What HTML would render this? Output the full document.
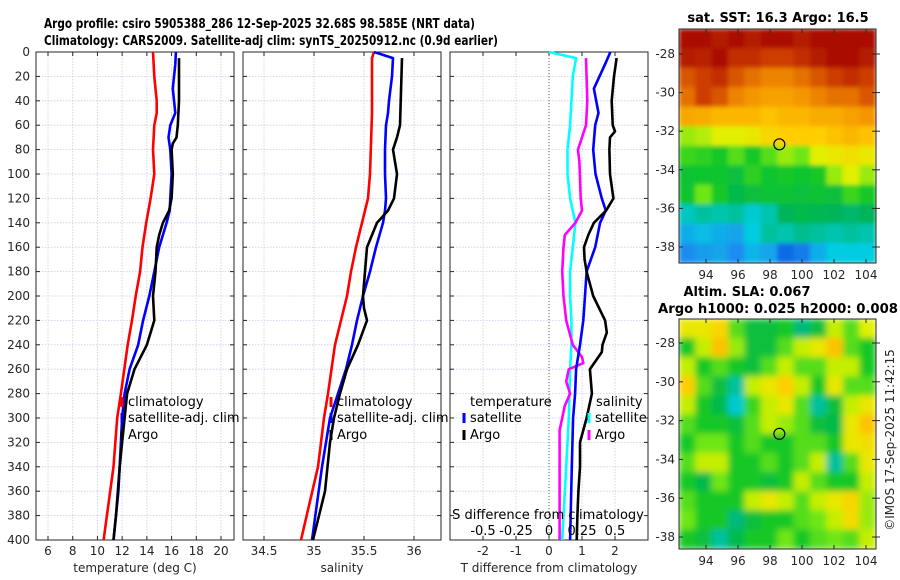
<!DOCTYPE html>
<html><head><meta charset="utf-8"><style>
html,body{margin:0;padding:0;background:#fff;}
svg{display:block;font-family:"DejaVu Sans","Liberation Sans",sans-serif;}
.tk{font-size:12px;fill:#262626;}
.ttl{font-size:13px;font-weight:bold;fill:#000;}
.lg{font-size:13px;fill:#000;}
</style></head><body>
<svg id="chart" width="900" height="580" viewBox="0 0 900 580" xmlns="http://www.w3.org/2000/svg">
<defs>
<filter id="blurA" x="0" y="0" width="1" height="1"><feGaussianBlur stdDeviation="2" edgeMode="duplicate"/></filter>
<filter id="blurB" x="0" y="0" width="1" height="1"><feGaussianBlur stdDeviation="3.2" edgeMode="duplicate"/></filter>
<clipPath id="clipA"><rect x="679" y="29" width="197" height="234"/></clipPath>
<clipPath id="clipB"><rect x="679" y="319" width="197" height="230"/></clipPath>
</defs>
<text class="ttl" x="44" y="28" textLength="431" lengthAdjust="spacingAndGlyphs">Argo profile: csiro 5905388_286 12-Sep-2025 32.68S 98.585E (NRT data)</text>
<text class="ttl" x="44" y="45" textLength="454" lengthAdjust="spacingAndGlyphs">Climatology: CARS2009. Satellite-adj clim: synTS_20250912.nc (0.9d earlier)</text>
<text class="ttl" x="778" y="22" text-anchor="middle">sat. SST: 16.3 Argo: 16.5</text>
<text class="ttl" x="747" y="296" text-anchor="middle">Altim. SLA: 0.067</text>
<text class="ttl" x="778" y="313" text-anchor="middle" textLength="240" lengthAdjust="spacingAndGlyphs">Argo h1000: 0.025 h2000: 0.008</text>
<text class="tk" transform="translate(894,440) rotate(-90)" text-anchor="middle" font-size="12">©IMOS 17-Sep-2025 11:42:15</text>
<g id="plots"></g>
</svg>
<script>
// ---------- data ----------
const depthTicks = [0,20,40,60,80,100,120,140,160,180,200,220,240,260,280,300,320,340,360,380,400];
const tTicks = [6,8,10,12,14,16,18,20];
const sTicks = [34.5,35,35.5,36];
const dTTicks = [-2,-1,0,1,2];
const dSTicks = [-0.5,-0.25,0,0.25,0.5];
const dSTickLabels = ['-0.5','-0.25','0','0.25','0.5'];

const climTDepth = [0,20,40,50,60,80,100,120,140,160,180,200,220,240,280,300,340,400];
const climT      = [14.5,14.6,14.8,14.8,14.6,14.5,14.6,14.3,13.95,13.65,13.45,13.1,12.8,12.45,11.9,11.6,11.3,10.5];
const satTDepth  = [0,10,30,50,60,70,80,100,120,130,140,160,180,200,220,240,260,280,300,320,360,400];
const satT       = [16.35,16.3,16.1,16.3,15.9,15.75,15.9,16.0,15.9,15.85,15.6,15.0,14.6,14.2,13.7,13.3,12.6,12.2,12.0,11.9,11.7,11.3];
const argoTDepth = [5,20,40,60,70,75,80,100,120,130,140,150,160,180,200,220,230,240,260,280,300,320,340,380,400];
const argoT      = [16.6,16.6,16.6,16.5,16.4,16.1,16.0,16.1,16.0,15.8,15.3,15.0,14.8,14.7,14.5,14.6,14.3,14.0,13.0,12.4,12.2,12.0,11.8,11.5,11.3];

const climSDepth = [0,5,50,100,120,140,160,180,200,220,240,280,300,340,400];
const climS      = [35.6,35.58,35.58,35.56,35.54,35.48,35.42,35.37,35.33,35.27,35.21,35.14,35.1,35.04,34.87];
const satSDepth  = [0,5,20,40,50,60,80,100,120,130,140,160,180,200,220,240,260,280,300,340,400];
const satS       = [35.6,35.79,35.78,35.75,35.74,35.72,35.71,35.71,35.72,35.71,35.69,35.62,35.56,35.49,35.43,35.38,35.32,35.24,35.16,35.08,34.98];
const argoSDepth = [5,60,70,80,85,100,120,130,140,150,160,180,200,210,220,240,260,280,300,320,360,400];
const argoS      = [35.88,35.86,35.83,35.79,35.8,35.83,35.8,35.74,35.63,35.58,35.53,35.51,35.49,35.5,35.53,35.44,35.33,35.26,35.2,35.16,35.11,34.99];

const satDTDepth = [0,10,30,50,60,80,100,120,130,140,160,180,200,220,240,260,280,300,340,400];
const satDT      = [1.86,1.7,1.36,1.5,1.4,1.34,1.41,1.6,1.72,1.55,1.4,1.14,1.09,1.04,0.94,0.82,0.79,0.73,0.69,0.64];
const argoDTDepth = [5,20,40,60,65,70,80,100,120,130,140,150,160,170,180,200,220,230,240,246,260,280,300,320,340,360,380,400];
const argoDT      = [2.05,1.97,1.9,1.93,2.0,1.85,1.83,1.85,1.95,1.73,1.36,1.19,1.06,1.08,1.14,1.34,1.7,1.75,1.62,1.6,1.24,1.3,1.14,0.94,0.94,0.89,0.86,0.84];
const satDSDepth = [0,5,20,60,80,100,120,140,160,180,200,220,240,260,300,340,400];
const satDS      = [0.0,0.205,0.18,0.16,0.14,0.14,0.16,0.2,0.18,0.16,0.16,0.17,0.17,0.16,0.15,0.13,0.1];
const argoDSDepth = [5,40,60,70,80,90,120,130,140,150,160,180,200,220,240,250,255,260,270,280,290,300,310,340,400];
const argoDS      = [0.28,0.29,0.28,0.25,0.22,0.23,0.24,0.25,0.2,0.12,0.11,0.1,0.11,0.13,0.18,0.25,0.26,0.15,0.13,0.16,0.12,0.1,0.08,0.08,0.08];

const sstLatTicks = [-28,-30,-32,-34,-36,-38];
const lonTicks = [94,96,98,100,102,104];
const argoLon = 98.585, argoLat = -32.68;
const sstGrid = [
 [.95,.95,.93,.95,.93,.95,.95,.93,.95,.95,.95,.95],
 [.93,.92,.95,.9,.9,.88,.88,.9,.93,.95,.95,.93],
 [.85,.88,.9,.85,.82,.8,.8,.82,.85,.88,.9,.88],
 [.82,.88,.85,.8,.78,.76,.76,.78,.8,.82,.82,.85],
 [.75,.74,.72,.72,.72,.7,.72,.72,.74,.74,.76,.78],
 [.55,.57,.6,.6,.62,.66,.68,.68,.68,.7,.72,.7],
 [.48,.47,.45,.5,.45,.5,.55,.52,.6,.62,.64,.62],
 [.43,.44,.44,.42,.47,.44,.45,.44,.45,.55,.6,.55],
 [.44,.52,.45,.4,.42,.43,.43,.42,.43,.42,.48,.45],
 [.32,.34,.33,.34,.31,.33,.38,.4,.39,.38,.37,.38],
 [.26,.28,.26,.25,.3,.34,.33,.35,.34,.33,.34,.33],
 [.22,.24,.25,.22,.27,.25,.18,.2,.26,.3,.3,.3]
];
const slaLatTicks = [-28,-30,-32,-34,-36,-38];
const slaGrid = [
 [.62,.62,.66,.5,.42,.42,.45,.36,.42,.58,.5,.6],
 [.45,.58,.7,.55,.42,.42,.5,.58,.62,.7,.5,.45],
 [.58,.45,.5,.45,.42,.5,.58,.5,.5,.58,.58,.45],
 [.68,.5,.42,.34,.58,.62,.68,.58,.45,.62,.5,.5],
 [.58,.45,.4,.31,.48,.58,.62,.5,.34,.42,.58,.62],
 [.5,.45,.45,.42,.5,.58,.55,.5,.42,.4,.62,.7],
 [.45,.52,.52,.45,.5,.45,.45,.5,.5,.45,.62,.64],
 [.5,.58,.58,.45,.45,.5,.45,.5,.58,.34,.5,.62],
 [.45,.4,.52,.45,.45,.42,.45,.58,.5,.45,.45,.58],
 [.5,.45,.45,.45,.58,.62,.58,.5,.58,.62,.66,.55],
 [.52,.45,.45,.36,.42,.45,.45,.5,.52,.58,.65,.55],
 [.45,.42,.34,.4,.45,.45,.52,.45,.5,.52,.5,.58]
];

// ---------- helpers ----------
const NS = 'http://www.w3.org/2000/svg';
const root = document.getElementById('plots');
function el(tag, attrs, parent){ const e=document.createElementNS(NS,tag); for(const k in attrs) e.setAttribute(k,attrs[k]); (parent||root).appendChild(e); return e; }
const Y0=52, Y1=540;
const yD = d => Y0 + d*(Y1-Y0)/400;
function linX(v0,x0,v1,x1){ return v => x0 + (v-v0)*(x1-x0)/(v1-v0); }

function panel(name, left, right, ticks, labels, xf, xlabel, showY){
  const g = el('g',{});
  
  
  depthTicks.forEach(d=>{ if(d>0&&d<400) el('line',{x1:left,x2:right,y1:yD(d),y2:yD(d),stroke:'#c8cce8','stroke-width':0.8,'stroke-dasharray':'1.5,1.5'},g); });
  ticks.forEach(t=>{ const x=xf(t); el('line',{x1:x,x2:x,y1:Y0,y2:Y1,stroke:'#c8cce8','stroke-width':0.8,'stroke-dasharray':'1.5,1.5'},g); });
  el('rect',{x:left,y:Y0,width:right-left,height:Y1-Y0,fill:'none',stroke:'#262626','stroke-width':1},g);
  depthTicks.forEach(d=>{ const y=yD(d);
    el('line',{x1:left,x2:left+4,y1:y,y2:y,stroke:'#262626'},g);
    el('line',{x1:right-4,x2:right,y1:y,y2:y,stroke:'#262626'},g);
    if(showY){ const t=el('text',{x:left-6,y:y+4,'text-anchor':'end',class:'tk'},g); t.textContent=d;
        }
  });
  ticks.forEach((tv,i)=>{ const x=xf(tv);
    el('line',{x1:x,x2:x,y1:Y1,y2:Y1-4,stroke:'#262626'},g);
    el('line',{x1:x,x2:x,y1:Y0,y2:Y0+4,stroke:'#262626'},g);
    const t=el('text',{x:x,y:Y1+15,'text-anchor':'middle',class:'tk'},g); t.textContent=labels[i];
     
  });
  const xl=el('text',{x:(left+right)/2,y:572,'text-anchor':'middle',class:'tk','font-size':'13'},g); xl.textContent=xlabel;
   
  return g;
}
function series(g, name, depths, vals, xf, color){
  const pts = depths.map((d,i)=>xf(vals[i]).toFixed(1)+','+yD(d).toFixed(1)).join(' ');
  const p = el('polyline',{points:pts,fill:'none',stroke:color,'stroke-width':2.6,'stroke-linejoin':'round'},g);
  
  
}
function legend(g, x, y, color, label, name){
  if(color){ el('line',{x1:x,x2:x,y1:y-9,y2:y+1,stroke:color,'stroke-width':3},g); }
  const t=el('text',{x:x+(color?6:0),y:y,class:'lg'},g); t.textContent=label;
  
  
}

// ---------- panel 1: temperature ----------
const xT = linX(6,48,20,221);
const p1 = panel('temperature-panel',36,234,tTicks,tTicks.map(String),xT,'temperature (deg C)',true);
series(p1,'climatology-temperature-line',climTDepth,climT,xT,'#ff0000');
series(p1,'satellite-temperature-line',satTDepth,satT,xT,'#0000ff');
series(p1,'argo-temperature-line',argoTDepth,argoT,xT,'#000000');
legend(p1,122,406,'#ff0000','climatology','legend-climatology');
legend(p1,122,422,'#0000ff','satellite-adj. clim','legend-satellite');
legend(p1,122,439,'#000000','Argo','legend-argo');

// ---------- panel 2: salinity ----------
const xS = linX(35,314,36,414);
const p2 = panel('salinity-panel',243,441,sTicks,sTicks.map(String),xS,'salinity',false);
series(p2,'climatology-salinity-line',climSDepth,climS,xS,'#ff0000');
series(p2,'satellite-salinity-line',satSDepth,satS,xS,'#0000ff');
series(p2,'argo-salinity-line',argoSDepth,argoS,xS,'#000000');
legend(p2,331,406,'#ff0000','climatology','legend-climatology');
legend(p2,331,422,'#0000ff','satellite-adj. clim','legend-satellite');
legend(p2,331,439,'#000000','Argo','legend-argo');

// ---------- panel 3: differences ----------
const xDT = linX(0,549,1,582);
const xDS = linX(0,549,0.25,582);
const p3 = panel('difference-panel',450,648,dTTicks,dTTicks.map(String),xDT,'T difference from climatology',false);
el('line',{x1:xDT(0),x2:xDT(0),y1:Y0,y2:Y1,stroke:'#556b2f','stroke-width':1,'stroke-dasharray':'1,2'},p3);
series(p3,'satellite-salinity-diff-line',satDSDepth,satDS,xDS,'#00ffff');
series(p3,'argo-salinity-diff-line',argoDSDepth,argoDS,xDS,'#ff00ff');
series(p3,'satellite-temperature-diff-line',satDTDepth,satDT,xDT,'#0000ff');
series(p3,'argo-temperature-diff-line',argoDTDepth,argoDT,xDT,'#000000');
legend(p3,470,406,null,'temperature','legend-temperature-header');
legend(p3,464,422,'#0000ff','satellite','legend-temp-satellite');
legend(p3,464,439,'#000000','Argo','legend-temp-argo');
legend(p3,596,406,null,'salinity','legend-salinity-header');
legend(p3,589,422,'#00ffff','satellite','legend-sal-satellite');
legend(p3,589,439,'#ff00ff','Argo','legend-sal-argo');
const sdt=el('text',{x:548,y:519,'text-anchor':'middle',class:'lg'},p3); sdt.textContent='S difference from climatology';
 
dSTicks.forEach((v,i)=>{ const t=el('text',{x:xDS(v),y:535,'text-anchor':'middle',class:'lg'},p3); t.textContent=dSTickLabels[i];
    });

// ---------- maps ----------
const stops=[[0.15,[0,80,220]],[0.22,[30,140,240]],[0.3,[0,205,225]],[0.38,[0,180,90]],[0.45,[20,200,40]],[0.52,[110,230,20]],[0.6,[225,240,0]],[0.68,[255,205,0]],[0.78,[245,150,0]],[0.88,[205,60,0]],[0.96,[165,5,0]],[1.0,[140,0,0]]];
function cmap(v){ if(v<=stops[0][0]) return 'rgb('+stops[0][1]+')';
  for(let i=1;i<stops.length;i++){ if(v<=stops[i][0]){ const a=stops[i-1],b=stops[i],f=(v-a[0])/(b[0]-a[0]);
    return 'rgb('+a[1].map((c,k)=>Math.round(c+(b[1][k]-c)*f)).join(',')+')'; } }
  return 'rgb('+stops[stops.length-1][1]+')'; }

function map(name, x0,y0,w,h, lonA,xA,lonB,xB, latA,yA,latB,yB, grid, latTicks, filt, clip, showYLabels){
  const g=el('g',{});
  
  
  const xl=linX(lonA,xA,lonB,xB), yl=linX(latA,yA,latB,yB);
  const cg=el('g',{'clip-path':'url(#'+clip+')'},g);
  const ig=el('g',{filter:'url(#'+filt+')'},cg);
  const rows=grid.length, cols=grid[0].length, cw=w/cols, ch=h/rows;
  grid.forEach((row,r)=>row.forEach((v,c)=>{
    const rc=el('rect',{x:x0+c*cw-0.3,y:y0+r*ch-0.3,width:cw+0.6,height:ch+0.6,fill:cmap(v)},ig);
     
  }));
  el('rect',{x:x0,y:y0,width:w,height:h,fill:'none',stroke:'#262626','stroke-width':1},g);
  latTicks.forEach(lt=>{ const y=yl(lt);
    el('line',{x1:x0,x2:x0+4,y1:y,y2:y,stroke:'#262626'},g);
    el('line',{x1:x0+w-4,x2:x0+w,y1:y,y2:y,stroke:'#262626'},g);
    el('line',{x1:x0+w,x2:x0+w+4,y1:y,y2:y,stroke:'#262626'},g);
    if(showYLabels){ const t=el('text',{x:x0-4,y:y+4,'text-anchor':'end',class:'tk'},g); t.textContent=lt;
        }
  });
  lonTicks.forEach(ln=>{ const x=xl(ln);
    el('line',{x1:x,x2:x,y1:y0+h,y2:y0+h-4,stroke:'#262626'},g);
    el('line',{x1:x,x2:x,y1:y0,y2:y0+4,stroke:'#262626'},g);
    const t=el('text',{x:x,y:y0+h+16,'text-anchor':'middle',class:'tk'},g); t.textContent=ln;
     
  });
  const m=el('circle',{cx:xl(argoLon),cy:yl(argoLat),r:5.5,fill:'none',stroke:'#000','stroke-width':1.2},g);
   
}
map('sst-map',679,29,197,234, 94,706,104,866, -28,54,-38,247, sstGrid, sstLatTicks,'blurA','clipA',true);
map('sla-map',679,319,197,230, 94,706,104,866, -28,343,-38,537, slaGrid, slaLatTicks,'blurB','clipB',true);
</script>
</body></html>
